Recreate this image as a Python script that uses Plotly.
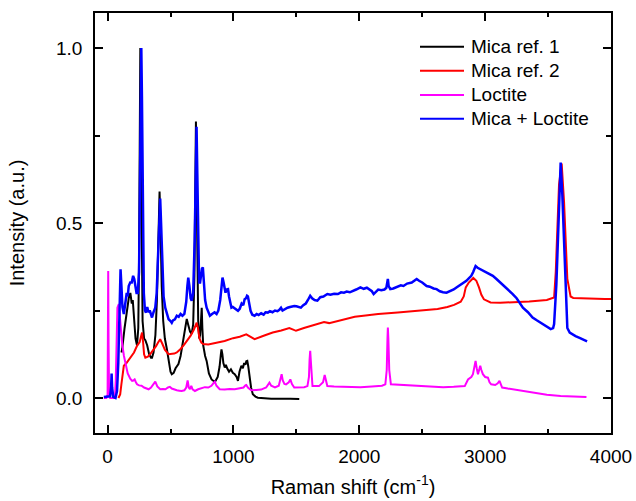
import plotly.graph_objects as go

# ---------------- data ----------------
mica1_x = [110, 116, 135, 155, 170, 181, 192, 200, 210, 222, 234, 244, 250, 255, 260, 264, 270, 278, 290, 300,
           315, 330, 345, 353, 365, 380, 392, 400, 407, 413, 420, 430, 442, 455, 471, 490, 500, 510, 525, 540,
           563, 580, 600, 615, 629, 640, 655, 668, 680, 690, 697, 702, 707, 713, 720, 728, 735, 742, 748, 753,
           760, 775, 787, 805, 826, 845, 858, 875, 890, 900, 905, 912, 920, 931, 940, 950, 965, 980, 995, 1010,
           1025, 1036, 1048, 1063, 1075, 1085, 1095, 1102, 1110, 1118, 1128, 1140, 1154, 1175, 1194, 1250, 1300,
           1350, 1400, 1450, 1523]
mica1_y = [0.13, 0.14, 0.20, 0.25, 0.29, 0.30, 0.27, 0.28, 0.24, 0.17, 0.15, 0.20, 0.40, 0.75, 1.00, 0.80, 0.40, 0.22, 0.17, 0.165,
           0.15, 0.125, 0.115, 0.115, 0.13, 0.18, 0.28, 0.40, 0.52, 0.59, 0.50, 0.32, 0.22, 0.17, 0.14, 0.095, 0.075, 0.068, 0.072, 0.085,
           0.097, 0.12, 0.16, 0.20, 0.226, 0.21, 0.19, 0.183, 0.21, 0.35, 0.60, 0.79, 0.62, 0.38, 0.22, 0.17, 0.18, 0.22, 0.258, 0.20,
           0.15, 0.12, 0.106, 0.07, 0.053, 0.048, 0.049, 0.06, 0.09, 0.125, 0.139, 0.125, 0.10, 0.087, 0.095, 0.085, 0.075, 0.082, 0.072, 0.068,
           0.06, 0.049, 0.075, 0.092, 0.085, 0.10, 0.095, 0.105, 0.106, 0.09, 0.058, 0.03, 0.011, 0.004, 0.001, -0.001, -0.002,
           -0.002, -0.003, -0.002, -0.003]

mica2_x = [86, 100, 110, 120, 129, 150, 181, 210, 234, 255, 265, 274, 282, 290, 300, 320, 340, 360, 385, 400,
           418, 435, 455, 484, 510, 530, 550, 580, 610, 629, 660, 685, 700, 708, 718, 730, 745, 760, 800, 866,
           930, 997, 1050, 1102, 1130, 1168, 1240, 1312, 1380, 1444, 1470, 1497, 1560, 1620, 1680, 1720, 1760, 1850, 1964, 2050,
           2150, 2306, 2430, 2530, 2622, 2700, 2753, 2806, 2830, 2846, 2870, 2906, 2930, 2951, 2970, 2990, 3043, 3120, 3227, 3350,
           3490, 3530, 3548, 3561, 3587, 3608, 3627, 3653, 3679, 3700, 3750, 3850, 3950, 4000]
mica2_y = [0.0, 0.01, 0.04, 0.075, 0.092, 0.10, 0.115, 0.13, 0.149, 0.16, 0.175, 0.187, 0.16, 0.125, 0.115, 0.118, 0.126, 0.135, 0.148, 0.158,
           0.168, 0.155, 0.138, 0.125, 0.125, 0.127, 0.13, 0.14, 0.153, 0.163, 0.178, 0.195, 0.21, 0.215, 0.20, 0.17, 0.158, 0.154, 0.153, 0.158,
           0.163, 0.171, 0.175, 0.182, 0.175, 0.168, 0.178, 0.187, 0.193, 0.20, 0.196, 0.192, 0.200, 0.207, 0.213, 0.217, 0.214, 0.222, 0.232, 0.236,
           0.24, 0.244, 0.248, 0.25, 0.254, 0.26, 0.266, 0.275, 0.29, 0.316, 0.33, 0.343, 0.335, 0.316, 0.295, 0.282, 0.273, 0.272, 0.273, 0.276,
           0.28, 0.284, 0.287, 0.36, 0.61, 0.67, 0.56, 0.34, 0.29, 0.286, 0.285, 0.284, 0.283, 0.283]

loctite_x = [-30, -10, 0, 3, 5, 8, 12, 20, 40, 58, 65, 72, 78, 89, 100, 116, 130, 142, 160, 180,
             195, 205, 215, 225, 234, 250, 270, 290, 310, 326, 345, 365, 379, 395, 418, 440, 460, 480, 495, 510,
             530, 550, 570, 589, 610, 625, 636, 645, 655, 665, 675, 694, 720, 750, 773, 800, 825, 840, 852, 865,
             891, 930, 970, 1010, 1050, 1080, 1095, 1102, 1115, 1141, 1180, 1220, 1260, 1286, 1300, 1330, 1360, 1375, 1383, 1392,
             1405, 1418, 1440, 1452, 1465, 1483, 1520, 1562, 1588, 1600, 1605, 1610, 1616, 1622, 1628, 1680, 1712, 1725, 1735, 1746,
             1800, 1900, 2009, 2100, 2180, 2207, 2218, 2224, 2227, 2231, 2238, 2251, 2300, 2351, 2430, 2500, 2600, 2667, 2750, 2838,
             2864, 2890, 2903, 2915, 2924, 2933, 2943, 2952, 2961, 2970, 2982, 3000, 3022, 3035, 3048, 3080, 3100, 3114, 3125, 3135,
             3180, 3219, 3298, 3400, 3490, 3600, 3700, 3805]
loctite_y = [0.0, 0.0, 0.01, 0.20, 0.363, 0.15, 0.01, 0.0, 0.0, 0.0, 0.05, 0.18, 0.258, 0.268, 0.22, 0.154, 0.12, 0.096, 0.07, 0.055,
             0.049, 0.05, 0.053, 0.045, 0.039, 0.036, 0.035, 0.03, 0.027, 0.025, 0.03, 0.04, 0.047, 0.033, 0.025, 0.026, 0.025, 0.03, 0.032, 0.027,
             0.024, 0.022, 0.021, 0.02, 0.022, 0.03, 0.05, 0.03, 0.025, 0.035, 0.025, 0.02, 0.025, 0.028, 0.031, 0.03, 0.035, 0.042, 0.047, 0.035,
             0.025, 0.024, 0.026, 0.025, 0.027, 0.03, 0.036, 0.037, 0.03, 0.022, 0.023, 0.024, 0.03, 0.044, 0.035, 0.03, 0.035, 0.055, 0.068, 0.05,
             0.04, 0.039, 0.045, 0.053, 0.04, 0.03, 0.031, 0.031, 0.034, 0.06, 0.11, 0.135, 0.10, 0.05, 0.034, 0.034, 0.045, 0.066, 0.05, 0.034,
             0.033, 0.032, 0.031, 0.033, 0.035, 0.039, 0.08, 0.17, 0.201, 0.17, 0.08, 0.039, 0.038, 0.037, 0.037, 0.035, 0.032, 0.031, 0.032, 0.034,
             0.053, 0.06, 0.068, 0.09, 0.106, 0.085, 0.068, 0.08, 0.092, 0.08, 0.068, 0.06, 0.058, 0.045, 0.039, 0.037, 0.042, 0.049, 0.035, 0.03,
             0.027, 0.025, 0.02, 0.014, 0.009, 0.006, 0.004, 0.003]

mix_x = [-30, 0, 20, 28, 32, 36, 45, 63, 75, 85, 95, 103, 110, 118, 129, 140, 152, 160, 168, 180,
         192, 203, 212, 221, 230, 240, 250, 257, 263, 268, 273, 280, 288, 297, 305, 315, 325, 335, 345, 353,
         365, 379, 390, 400, 410, 418, 425, 435, 445, 458, 470, 485, 500, 510, 520, 535, 550, 565, 580, 595,
         610, 625, 634, 641, 650, 660, 668, 680, 692, 700, 707, 713, 720, 727, 735, 742, 750, 757, 765, 775,
         787, 800, 813, 830, 850, 866, 880, 895, 905, 913, 922, 930, 937, 945, 957, 965, 975, 984, 995, 1010,
         1025, 1036, 1050, 1065, 1078, 1089, 1100, 1108, 1115, 1125, 1136, 1150, 1168, 1185, 1200, 1220, 1240, 1255, 1273, 1290,
         1310, 1330, 1350, 1365, 1378, 1390, 1410, 1430, 1450, 1483, 1500, 1520, 1536, 1555, 1575, 1592, 1610, 1625, 1645, 1667,
         1690, 1715, 1746, 1770, 1800, 1830, 1855, 1878, 1900, 1925, 1950, 1975, 2009, 2035, 2060, 2085, 2100, 2114, 2130, 2150,
         2175, 2200, 2215, 2222, 2227, 2233, 2246, 2270, 2300, 2330, 2351, 2380, 2417, 2440, 2456, 2475, 2500, 2535, 2560, 2590,
         2614, 2640, 2665, 2693, 2720, 2750, 2772, 2800, 2830, 2851, 2870, 2890, 2905, 2915, 2924, 2940, 2960, 2982, 3010, 3035,
         3061, 3090, 3115, 3140, 3170, 3195, 3219, 3250, 3285, 3300, 3340, 3377, 3410, 3456, 3490, 3521, 3540, 3548, 3566, 3587,
         3600, 3613, 3635, 3653, 3672, 3700, 3718, 3750, 3775, 3797, 3810]
mix_y = [0.003, 0.004, 0.005, 0.03, 0.07, 0.03, 0.003, 0.0, 0.02, 0.10, 0.27, 0.368, 0.32, 0.26, 0.24, 0.27, 0.30, 0.29, 0.32, 0.33,
         0.33, 0.349, 0.34, 0.32, 0.30, 0.30, 0.36, 0.60, 0.90, 1.0, 0.86, 0.50, 0.30, 0.25, 0.244, 0.26, 0.245, 0.25, 0.235, 0.23,
         0.245, 0.258, 0.30, 0.40, 0.52, 0.57, 0.50, 0.36, 0.29, 0.258, 0.24, 0.225, 0.22, 0.215, 0.222, 0.225, 0.235, 0.232, 0.24, 0.235,
         0.24, 0.275, 0.32, 0.344, 0.32, 0.285, 0.278, 0.30, 0.45, 0.66, 0.775, 0.64, 0.42, 0.33, 0.33, 0.36, 0.37, 0.373, 0.33, 0.28,
         0.258, 0.245, 0.235, 0.24, 0.245, 0.24, 0.25, 0.28, 0.32, 0.344, 0.33, 0.305, 0.301, 0.31, 0.311, 0.29, 0.27, 0.258, 0.26, 0.255,
         0.25, 0.249, 0.255, 0.27, 0.265, 0.282, 0.285, 0.292, 0.29, 0.27, 0.249, 0.238, 0.235, 0.24, 0.237, 0.242, 0.238, 0.245, 0.244, 0.248,
         0.245, 0.25, 0.248, 0.252, 0.258, 0.25, 0.255, 0.258, 0.26, 0.263, 0.262, 0.26, 0.258, 0.265, 0.27, 0.28, 0.292, 0.285, 0.28, 0.278,
         0.288, 0.29, 0.297, 0.295, 0.298, 0.297, 0.302, 0.301, 0.304, 0.302, 0.307, 0.31, 0.316, 0.312, 0.315, 0.31, 0.305, 0.297, 0.302, 0.31,
         0.308, 0.31, 0.315, 0.33, 0.34, 0.32, 0.311, 0.313, 0.318, 0.322, 0.32, 0.327, 0.33, 0.335, 0.34, 0.335, 0.33, 0.32, 0.318, 0.313,
         0.311, 0.305, 0.302, 0.301, 0.305, 0.31, 0.316, 0.322, 0.33, 0.335, 0.342, 0.349, 0.36, 0.37, 0.377, 0.372, 0.368, 0.363, 0.358, 0.353,
         0.349, 0.34, 0.332, 0.325, 0.314, 0.305, 0.297, 0.285, 0.268, 0.258, 0.245, 0.23, 0.222, 0.211, 0.205, 0.197, 0.2, 0.211, 0.325, 0.583,
         0.673, 0.583, 0.392, 0.2, 0.187, 0.18, 0.177, 0.172, 0.168, 0.163, 0.162]

series_names = ["Mica ref. 1", "Mica ref. 2", "Loctite", "Mica + Loctite"]
series_colors = ["#000000", "#ff0000", "#ff00ff", "#0000ff"]
series_data = [(mica1_x, mica1_y), (mica2_x, mica2_y), (loctite_x, loctite_y), (mix_x, mix_y)]

FONT = "Arial, 'Liberation Sans', sans-serif"

# plot-area geometry in pixels (for placing the legend)
W, H = 636, 501
ML, MR, MT, MB = 95, 25, 13, 68
PW, PH = W - ML - MR, H - MT - MB


def px_to_paper(px, py):
    return (px - ML) / PW, 1 - (py - MT) / PH


fig = go.Figure()
for i, (name, color, (xs, ys)) in enumerate(zip(series_names, series_colors, series_data)):
    fig.add_trace(go.Scatter(
        x=xs, y=ys, mode="lines", name=name, showlegend=False,
        line=dict(color=color, width=2.5 if i == 3 else 2),
    ))

# legend drawn by hand (line sample + text) to match the reference spacing
shapes, annotations = [], []
row_y = [46.7, 70.7, 95.0, 118.7]
for name, color, ry in zip(series_names, series_colors, row_y):
    x0, y0 = px_to_paper(420, ry)
    x1, _ = px_to_paper(464, ry)
    xt, _ = px_to_paper(469, ry)
    shapes.append(dict(type="line", xref="paper", yref="paper", x0=x0, x1=x1, y0=y0, y1=y0,
                       line=dict(color=color, width=2)))
    annotations.append(dict(xref="paper", yref="paper", x=xt, y=y0, xanchor="left", yanchor="middle",
                            text=name, showarrow=False, font=dict(family=FONT, size=19, color="black")))

axis_common = dict(
    showline=True, linecolor="black", linewidth=1.6, mirror="ticks",
    ticks="inside", ticklen=8, tickwidth=1.6, tickcolor="black",
    showgrid=False, zeroline=False, automargin=False,
    tickfont=dict(family=FONT, size=19, color="black"),
)

fig.update_xaxes(
    range=[-100, 4000], tickmode="linear", tick0=0, dtick=1000,
    minor=dict(ticks="inside", ticklen=4, tickwidth=1.6, tickcolor="black", dtick=500, tick0=0),
    title=dict(text="Raman shift (cm<sup>-1</sup>)", font=dict(family=FONT, size=20, color="black"), standoff=14),
    ticklabelstandoff=5,
    **axis_common,
)
fig.update_yaxes(
    range=[-0.1, 1.1], tickmode="linear", tick0=0, dtick=0.5, tickformat=".1f",
    minor=dict(ticks="inside", ticklen=5, tickwidth=1.6, tickcolor="black", dtick=0.25, tick0=0),
    title=dict(text="Intensity (a.u.)", font=dict(family=FONT, size=20, color="black"), standoff=26),
    ticklabelstandoff=7,
    **axis_common,
)

fig.update_layout(
    width=W, height=H,
    margin=dict(l=ML, r=MR, t=MT, b=MB),
    paper_bgcolor="white", plot_bgcolor="white",
    font=dict(family=FONT, size=19, color="black"),
    shapes=shapes, annotations=annotations,
    showlegend=False,
)

fig.write_html("out.html")
